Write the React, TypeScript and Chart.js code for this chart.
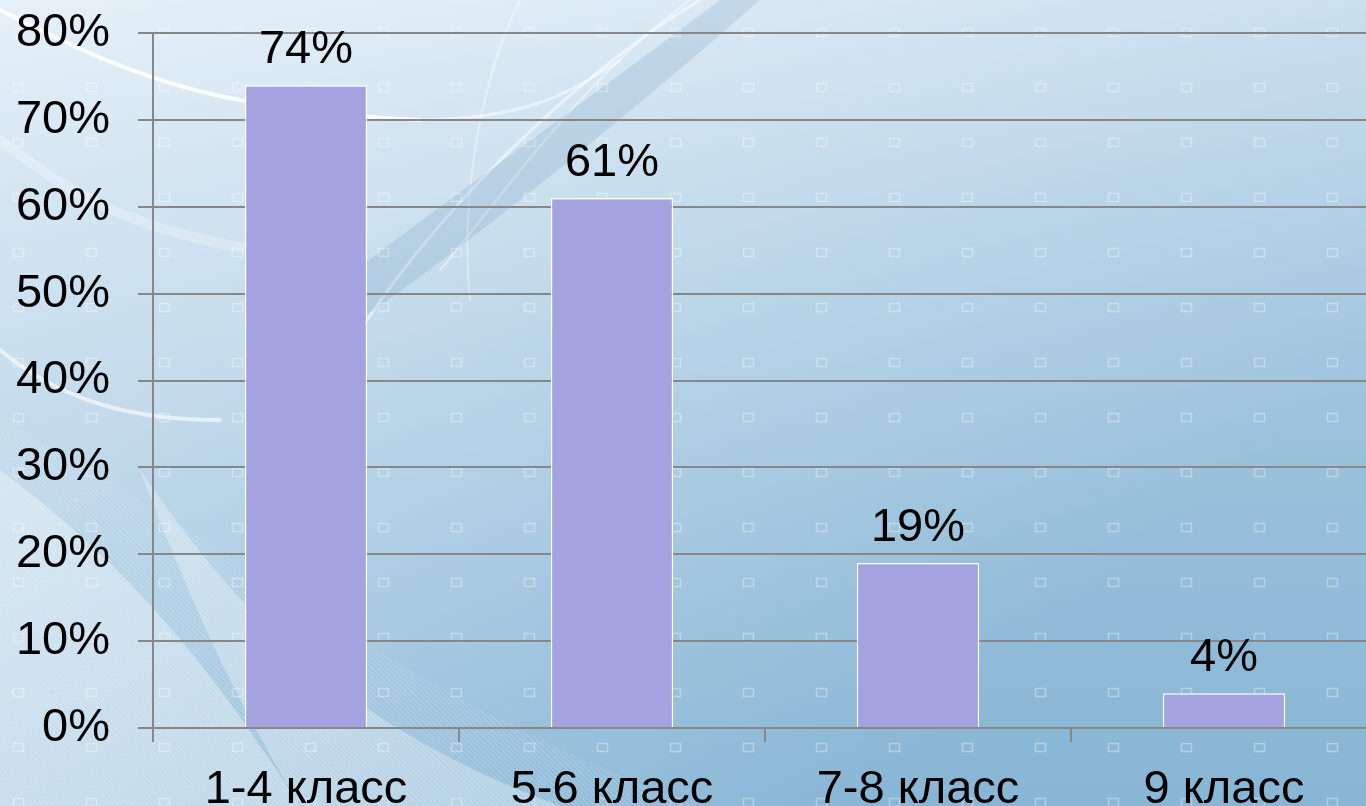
import React, { useEffect, useRef } from "react";
import { Chart, registerables } from "chart.js";

Chart.register(...registerables);

const categories = ["1-4 класс", "5-6 класс", "7-8 класс", "9 класс"];
const values = [74, 61, 19, 4];
const yTicks = [0, 10, 20, 30, 40, 50, 60, 70, 80];

const FONT = "'Liberation Sans', Arial, sans-serif";
const FSIZE = 47;

const backgroundPlugin = {
  id: "bg",
  beforeDraw(chart: any) {
    const { ctx, width, height } = chart;
    ctx.save();
    const g = ctx.createLinearGradient(0, 0, width * 0.55, height * 1.1);
    g.addColorStop(0, "#e6f1f9");
    g.addColorStop(0.35, "#cfe3f0");
    g.addColorStop(0.7, "#a9cbe2");
    g.addColorStop(1, "#8cb8d6");
    ctx.fillStyle = g;
    ctx.fillRect(0, 0, width, height);
    const g2 = ctx.createLinearGradient(width, 0, width, height);
    g2.addColorStop(0, "rgba(230,240,248,0.6)");
    g2.addColorStop(1, "rgba(130,178,212,0.3)");
    ctx.fillStyle = g2;
    ctx.fillRect(0, 0, width, height);

    ctx.lineCap = "round";
    const curve = (pts: number[], w: number, a: number) => {
      ctx.beginPath();
      ctx.moveTo(pts[0], pts[1]);
      ctx.bezierCurveTo(pts[2], pts[3], pts[4], pts[5], pts[6], pts[7]);
      ctx.strokeStyle = `rgba(255,255,255,${a})`;
      ctx.lineWidth = w;
      ctx.stroke();
    };
    curve([0, 10, 120, 70, 200, 110, 420, 120], 4, 0.85);
    curve([420, 120, 520, 118, 560, 100, 620, 60], 3, 0.5);
    curve([0, 140, 80, 200, 140, 240, 330, 260], 10, 0.25);
    curve([0, 350, 60, 400, 130, 420, 220, 420], 4, 0.6);
    curve([700, 0, 600, 60, 460, 180, 360, 330], 3, 0.55);
    curve([690, 0, 580, 80, 500, 200, 440, 270], 2, 0.45);
    curve([520, 0, 480, 80, 460, 200, 470, 300], 2, 0.4);
    ctx.beginPath();
    ctx.moveTo(330, 290);
    ctx.bezierCurveTo(420, 220, 560, 120, 720, 0);
    ctx.lineTo(760, 0);
    ctx.bezierCurveTo(600, 140, 460, 250, 360, 320);
    ctx.closePath();
    ctx.fillStyle = "rgba(90,140,180,0.18)";
    ctx.fill();

    ctx.beginPath();
    ctx.moveTo(0, 470);
    ctx.bezierCurveTo(120, 560, 200, 650, 300, 806);
    ctx.lineTo(0, 806);
    ctx.closePath();
    ctx.fillStyle = "rgba(255,255,255,0.35)";
    ctx.fill();
    ctx.beginPath();
    ctx.moveTo(140, 470);
    ctx.bezierCurveTo(230, 600, 330, 720, 560, 806);
    ctx.lineTo(300, 806);
    ctx.bezierCurveTo(230, 690, 190, 600, 140, 470);
    ctx.fillStyle = "rgba(255,255,255,0.3)";
    ctx.fill();
    ctx.save();
    ctx.beginPath();
    ctx.moveTo(0, 420);
    ctx.bezierCurveTo(200, 520, 400, 700, 700, 806);
    ctx.lineTo(0, 806);
    ctx.closePath();
    ctx.clip();
    ctx.strokeStyle = "rgba(255,255,255,0.25)";
    ctx.lineWidth = 1;
    for (let i = -800; i < 800; i += 5) {
      ctx.beginPath();
      ctx.moveTo(i, 420);
      ctx.lineTo(i + 400, 806);
      ctx.stroke();
    }
    ctx.restore();

    ctx.strokeStyle = "rgba(255,255,255,0.35)";
    ctx.lineWidth = 1.5;
    for (let x = 13; x < width; x += 73) {
      for (let y = 28; y < height; y += 55) {
        ctx.strokeRect(x + 0.5, y + 0.5, 10, 8);
      }
    }
    ctx.restore();
  },
};

const dataLabelPlugin = {
  id: "dataLabels",
  afterDatasetsDraw(chart: any) {
    const { ctx } = chart;
    const meta = chart.getDatasetMeta(0);
    ctx.save();
    ctx.font = `${FSIZE}px ${FONT}`;
    ctx.fillStyle = "#000000";
    ctx.textAlign = "center";
    ctx.textBaseline = "alphabetic";
    meta.data.forEach((bar: any, i: number) => {
      ctx.fillText(values[i] + "%", bar.x, bar.y - 22);
    });
    ctx.restore();
  },
};

export default function App() {
  const ref = useRef<HTMLCanvasElement>(null);
  useEffect(() => {
    document.body.style.margin = "0";
    document.body.style.overflow = "hidden";
    const chart = new Chart(ref.current!, {
      type: "bar",
      data: {
        labels: categories,
        datasets: [
          {
            data: values,
            backgroundColor: "#a5a3df",
            borderColor: "#ffffff",
            borderWidth: 1.5,
            barPercentage: 0.8,
            categoryPercentage: 0.5,
          },
        ],
      },
      options: {
        responsive: false,
        devicePixelRatio: 1,
        animation: false,
        layout: { padding: { top: 33, right: 3, left: 0, bottom: 0 } },
        plugins: { legend: { display: false }, tooltip: { enabled: false } },
        scales: {
          x: {
            grid: {
              offset: true,
              drawOnChartArea: false,
              drawTicks: true,
              tickLength: 14,
              color: "#878787",
              lineWidth: 2,
            },
            border: { color: "#878787", width: 2 },
            ticks: {
              color: "#000000",
              font: { family: FONT, size: FSIZE },
              padding: 20,
              maxRotation: 0,
              autoSkip: false,
            },
            afterFit(scale: any) {
              scale.height = 78;
              scale.paddingLeft = 0;
              scale.paddingRight = 0;
            },
          },
          y: {
            min: 0,
            max: 80,
            afterBuildTicks(scale: any) {
              scale.ticks = yTicks.map((v) => ({ value: v }));
            },
            grid: {
              color: "#878787",
              lineWidth: 2,
              tickLength: 15,
            },
            border: { color: "#878787", width: 2 },
            ticks: {
              color: "#000000",
              font: { family: FONT, size: FSIZE },
              padding: 28,
              callback: (v: any) => v + "%",
            },
            afterFit(scale: any) {
              scale.width = 153;
              scale.paddingTop = 0;
              scale.paddingBottom = 0;
            },
          },
        },
      },
      plugins: [backgroundPlugin, dataLabelPlugin],
    });
    return () => chart.destroy();
  }, []);
  return (
    <div style={{ position: "absolute", left: 0, top: 0, width: 1380, height: 806, overflow: "hidden" }}>
      <canvas ref={ref} width={1380} height={806} style={{ display: "block" }} />
    </div>
  );
}
